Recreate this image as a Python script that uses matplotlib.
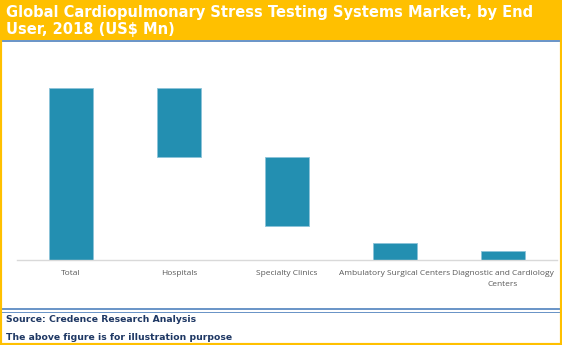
import matplotlib
matplotlib.use("Agg")
import matplotlib.pyplot as plt
from matplotlib.patches import Rectangle
from matplotlib.lines import Line2D

# Market split by end user (US$ Mn, illustrative)
categories = ["Total", "Hospitals", "Specialty Clinics",
              "Ambulatory Surgical Centers", "Diagnostic and Cardiology\nCenters"]
values = [100, 40, 40, 10, 5]
bases = [0, 60, 20, 0, 0]

title = "Global Cardiopulmonary Stress Testing Systems Market, by End\nUser, 2018 (US$ Mn)"
source = "Source: Credence Research Analysis"
note = "The above figure is for illustration purpose"

W, H = 562, 345
fig = plt.figure(figsize=(W / 100, H / 100), dpi=100)
fig.patch.set_facecolor("white")

ORANGE = "#FFC000"
BLUE_LINE = "#4F81BD"
NAVY = "#1F3864"
BAR = "#238FB1"

def fx(px):
    return px / W

def fy(py):
    return 1 - py / H

# title band
fig.patches.append(Rectangle((0, fy(40)), 1, 40 / H, transform=fig.transFigure,
                             facecolor=ORANGE, edgecolor="none", zorder=0))
fig.lines.append(Line2D([0, 1], [fy(40.5)] * 2, transform=fig.transFigure,
                        color=BLUE_LINE, lw=1.2))
fig.text(fx(6), fy(21), title, color="white", fontsize=10.5, fontweight="bold",
         family="DejaVu Sans", va="center", ha="left", linespacing=1.15)

# footer separator
fig.lines.append(Line2D([0, 1], [fy(309)] * 2, transform=fig.transFigure,
                        color=BLUE_LINE, lw=1.2))
fig.lines.append(Line2D([0, 1], [fy(311.5)] * 2, transform=fig.transFigure,
                        color=BLUE_LINE, lw=0.6))
fig.text(fx(6), fy(320), source, color=NAVY, fontsize=6.7, fontweight="bold",
         family="DejaVu Sans", va="center", ha="left")
fig.text(fx(6), fy(337), note, color=NAVY, fontsize=6.7, fontweight="bold",
         family="DejaVu Sans", va="center", ha="left")

# outer orange frame
fig.patches.append(Rectangle((0, 0), 1, 1, transform=fig.transFigure,
                             facecolor="none", edgecolor=ORANGE, lw=3, zorder=10))

# plot area
top_px, base_px = 60, 260
ax = fig.add_axes([fx(17), fy(base_px), fx(540), (base_px - top_px) / H])
ax.set_facecolor("none")
x = range(len(categories))
ax.bar(x, values, bottom=bases, width=0.41, color=BAR,
       edgecolor="#8cc3d9", linewidth=0.6)
ax.set_xlim(-0.5, len(categories) - 0.5)
ax.set_ylim(0, 100 * (base_px - top_px) / (base_px - 88))
for s in ["top", "right", "left"]:
    ax.spines[s].set_visible(False)
ax.spines["bottom"].set_color("#d9d9d9")
ax.spines["bottom"].set_linewidth(1)
ax.set_yticks([])
ax.set_xticks(list(x))
ax.set_xticklabels(categories, fontsize=6.0, color="#595959",
                   family="Open Sans", linespacing=1.65)
ax.tick_params(axis="x", length=0, pad=7.5)

fig.savefig("out.png", dpi=100)
